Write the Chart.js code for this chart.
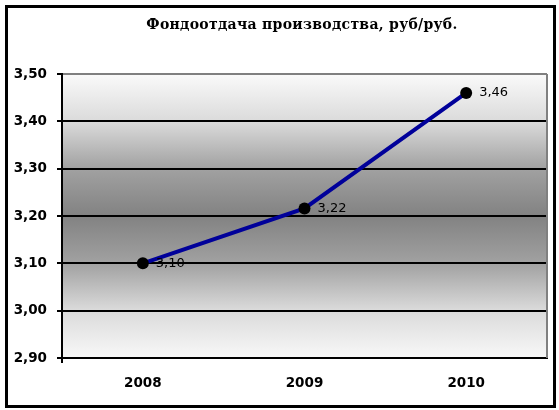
<!DOCTYPE html>
<html>
<head>
<meta charset="utf-8">
<script src="https://cdn.jsdelivr.net/npm/chart.js@4.4.0/dist/chart.umd.min.js"></script>
<style>
html,body{margin:0;padding:0;background:#fff;}
#wrap{position:relative;width:559px;height:410px;}
</style>
</head>
<body>
<div id="wrap"><canvas id="c" width="559" height="410"></canvas></div>
<script>
const titleText = 'Фондоотдача производства, руб/руб.';
const categories = ['2008', '2009', '2010'];
const values = [3.10, 3.216, 3.46];
const yMin = 2.90, yMax = 3.50, yStep = 0.10;

const fmt = v => v.toFixed(2).replace('.', ',');

const deco = {
  id: 'deco',
  beforeDraw(chart) {
    const {ctx, chartArea: a} = chart;
    ctx.save();
    ctx.fillStyle = '#fff';
    ctx.fillRect(0, 0, chart.width, chart.height);
    const g = ctx.createLinearGradient(0, a.top, 0, a.bottom);
    g.addColorStop(0, '#fafafa');
    g.addColorStop(0.17, '#dadada');
    g.addColorStop(0.33, '#a2a2a2');
    g.addColorStop(0.5, '#828282');
    g.addColorStop(0.67, '#a2a2a2');
    g.addColorStop(0.83, '#dadada');
    g.addColorStop(1, '#f8f8f8');
    ctx.fillStyle = g;
    ctx.fillRect(a.left, a.top, a.right - a.left, a.bottom - a.top);
    ctx.restore();
  },
  afterDraw(chart) {
    const {ctx, chartArea: a} = chart;
    ctx.save();
    // plot border right
    ctx.strokeStyle = '#808080';
    ctx.lineWidth = 2;
    ctx.beginPath();
    ctx.moveTo(a.right, a.top);
    ctx.lineTo(a.right, a.bottom);
    ctx.stroke();
    // outer frame
    ctx.strokeStyle = '#000';
    ctx.lineWidth = 3;
    ctx.strokeRect(6.5, 6.5, 548, 400);
    // title
    ctx.fillStyle = '#000';
    ctx.font = 'bold 14px "DejaVu Serif"';
    if ('letterSpacing' in ctx) ctx.letterSpacing = '0.3px';
    ctx.textAlign = 'center';
    ctx.textBaseline = 'middle';
    ctx.fillText(titleText, 302, 25);
    if ('letterSpacing' in ctx) ctx.letterSpacing = '0px';
    // data labels
    const meta = chart.getDatasetMeta(0);
    ctx.font = '13px "DejaVu Sans"';
    ctx.textAlign = 'left';
    meta.data.forEach((p, i) => {
      ctx.fillText(fmt(values[i]), p.x + 13, p.y);
    });
    ctx.restore();
  }
};

new Chart(document.getElementById('c'), {
  type: 'line',
  data: {
    labels: categories,
    datasets: [{
      data: values,
      borderColor: '#00009a',
      borderWidth: 4,
      pointBackgroundColor: '#000',
      pointBorderColor: '#000',
      pointRadius: 6,
      pointBorderWidth: 0,
      tension: 0,
      clip: false
    }]
  },
  options: {
    responsive: false,
    animation: false,
    events: [],
    layout: {padding: {top: 74, right: 12, left: 0, bottom: 0}},
    plugins: {legend: {display: false}, title: {display: false}, tooltip: {enabled: false}},
    scales: {
      x: {
        offset: true,
        grid: {offset: true, drawOnChartArea: false, lineWidth: 2, tickLength: 5,
          color: ctx => (ctx.index === 0 || ctx.index === categories.length) ? '#000' : 'rgba(0,0,0,0)'},
        border: {color: '#000', width: 2},
        ticks: {color: '#000', font: {family: 'DejaVu Sans', weight: 'bold', size: 13.5}, padding: 12},
        afterFit(s) { s.height = 52; }
      },
      y: {
        min: yMin, max: yMax,
        ticks: {stepSize: yStep, color: '#000', font: {family: 'DejaVu Sans', weight: 'bold', size: 13.5}, padding: 10,
          callback: v => fmt(v)},
        grid: {color: ctx => (Math.abs(ctx.tick && ctx.tick.value - yMax) < 1e-6 ? '#808080' : '#000'),
          lineWidth: 2, tickLength: 5, tickColor: '#000'},
        border: {color: '#000', width: 2},
        afterFit(s) { s.width = 62; }
      }
    }
  },
  plugins: [deco]
});
</script>
</body>
</html>
